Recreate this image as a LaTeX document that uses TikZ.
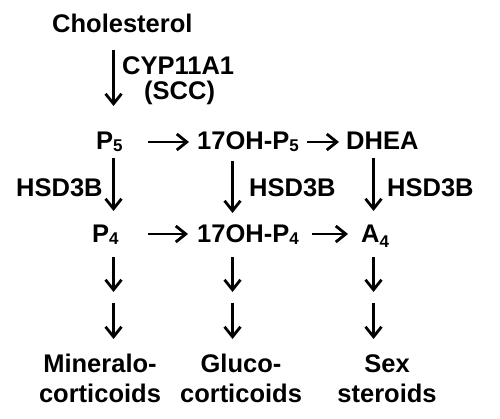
\documentclass[tikz,border=0pt]{standalone}
\usepackage{fontspec}
\setmainfont{Liberation Sans}
\usetikzlibrary{arrows.meta}
\newcommand\mysub[1]{\raisebox{-2pt}{\fontsize{17}{17}\selectfont #1}}
\newcommand\mysublow[1]{\raisebox{-5pt}{\fontsize{17}{17}\selectfont #1}}
\begin{document}
\begin{tikzpicture}[x=1pt,y=1pt,
  lbl/.style={inner sep=0pt,anchor=base west,font=\fontsize{25.5}{30}\selectfont\bfseries},
  lblc/.style={inner sep=0pt,anchor=base,align=center,font=\fontsize{25.5}{30}\selectfont\bfseries},
  arr/.style={line width=2.8pt,-{Straight Barb[length=10pt,width=16pt]}}]
\useasboundingbox (0,0) rectangle (500,418);
% text nodes
\node[lbl] (chol) at (52,385) {Cholesterol};
\node[lbl] (cyp) at (122,343) {CYP11A1};
\node[lbl] (scc) at (144,318) {(SCC)};
\node[lbl] (p5) at (96,268) {P\mysub{5}};
\node[lbl] (oh5) at (197,268) {17OH-P\mysub{5}};
\node[lbl] (dhea) at (346,268) {DHEA};
\node[lbl] (hsdL) at (16,222) {HSD3B};
\node[lbl] (hsdM) at (249,222) {HSD3B};
\node[lbl] (hsdR) at (387,222) {HSD3B};
\node[lbl] (p4) at (92,176) {P\mysub{4}};
\node[lbl] (oh4) at (197,176) {17OH-P\mysub{4}};
\node[lbl] (a4) at (361,176) {A\mysublow{4}};
\node[lblc] (min) at (100,16) {Mineralo-\\corticoids};
\node[lblc] (glu) at (241,16) {Gluco-\\corticoids};
\node[lblc] (sex) at (387,16) {Sex\\steroids};
% arrow end points
\coordinate (s1) at (113.5,368); \coordinate (e1) at (113.5,312);
\coordinate (s2) at (148,276); \coordinate (e2) at (189,276);
\coordinate (s3) at (307,276); \coordinate (e3) at (339,276);
\coordinate (s4) at (113.5,260); \coordinate (e4) at (113.5,207);
\coordinate (s5) at (232.5,257); \coordinate (e5) at (232.5,205);
\coordinate (s6) at (373.5,260); \coordinate (e6) at (373.5,207);
\coordinate (s7) at (148,184); \coordinate (e7) at (188,184);
\coordinate (s8) at (312,184); \coordinate (e8) at (348,184);
\coordinate (s9) at (113.5,161); \coordinate (e9) at (113.5,126);
\coordinate (s10) at (232.5,161); \coordinate (e10) at (232.5,126);
\coordinate (s11) at (373.5,161); \coordinate (e11) at (373.5,126);
\coordinate (s12) at (113.5,115); \coordinate (e12) at (113.5,79);
\coordinate (s13) at (232.5,115); \coordinate (e13) at (232.5,79);
\coordinate (s14) at (373.5,115); \coordinate (e14) at (373.5,79);
\foreach \i in {1,...,14} {\draw[arr] (s\i) -- (e\i);}
\end{tikzpicture}
\end{document}
